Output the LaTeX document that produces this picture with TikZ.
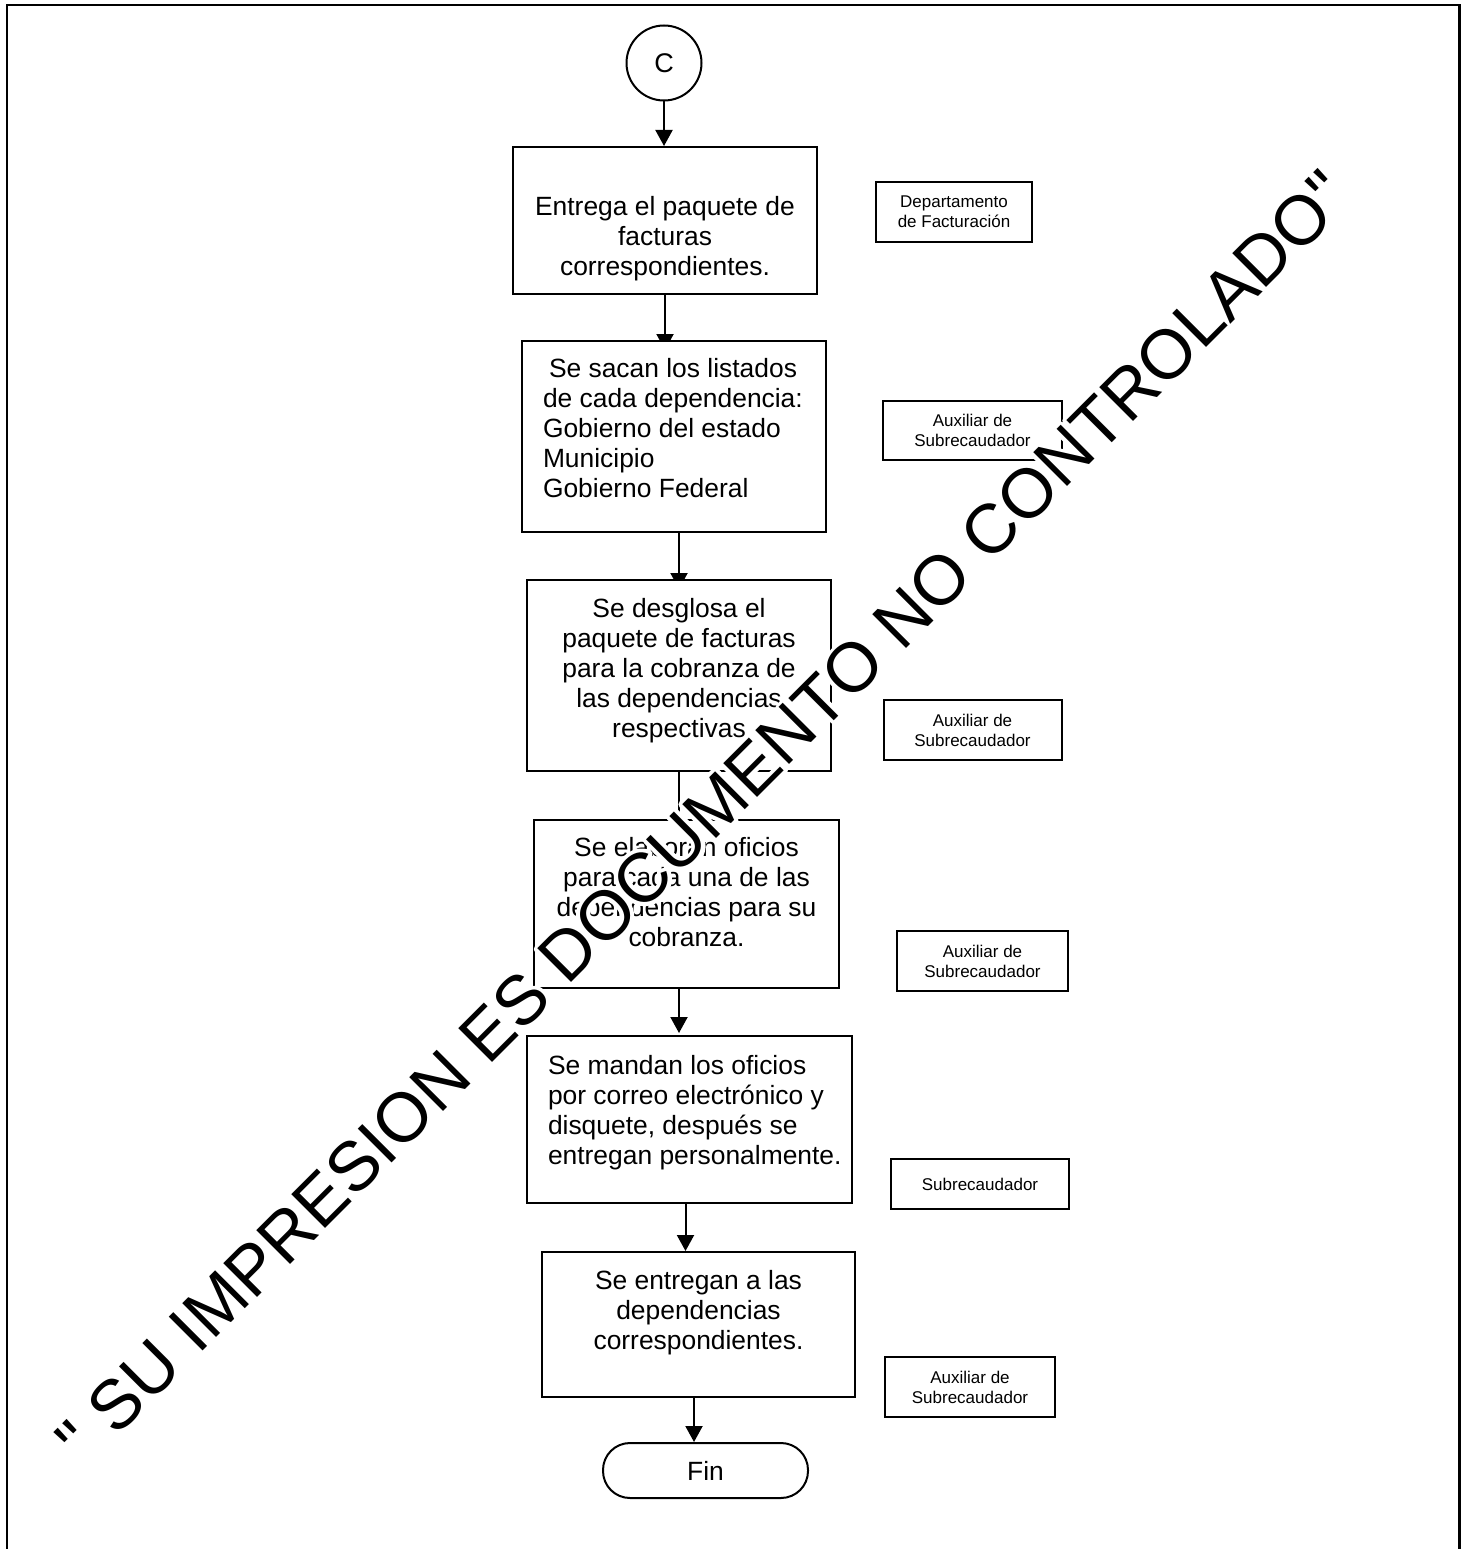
\documentclass[tikz,border=0pt]{standalone}
\usepackage{fontspec}
\setmainfont{Liberation Sans}
\usetikzlibrary{arrows.meta,backgrounds,calc}
\font\wmfnt="Liberation Sans" at 69.5pt
\newcommand\flowtext[4]{\parbox[c][#2][t]{#1}{\vspace*{#3}#4\par}}
\newcommand\wmtext{" SU IMPRESION ES DOCUMENTO NO CONTROLADO"}
\begin{document}
\begin{tikzpicture}[x=1pt,y=-1pt,
  box/.style={draw, fill=white, inner sep=0pt, line width=2pt, font=\fontsize{26.4}{30.2}\selectfont},
  role/.style={draw, fill=white, inner sep=0pt, line width=2pt, align=center, font=\fontsize{17}{20}\selectfont},
  arr/.style={-{Triangle[length=16pt,width=17pt]}, line width=2pt},
  wm/.style={rotate=45, anchor=base, inner sep=0pt, font=\wmfnt}]
\useasboundingbox (0,0) rectangle (1468,1549);
% frame
\draw[line width=2.5pt] (7,1555) -- (7,5) -- (1459.5,5) -- (1459.5,1555);

% connector start
\node[draw, circle, line width=2pt, fill=white, minimum size=75pt, inner sep=0pt, font=\fontsize{27}{30}\selectfont] (c) at (664,63) {C};

% process boxes
\node[box] (b1) at (665,220.5) {\flowtext{304pt}{147pt}{49pt}{\centering Entrega el paquete de\\facturas\\correspondientes.}};
\node[box] (b2) at (674,436.5) {\flowtext{304pt}{191pt}{17pt}{\raggedright\leftskip=21pt\relax\hspace*{6pt}Se sacan los listados\\de cada dependencia:\\Gobierno del estado\\Municipio\\Gobierno Federal}};
\node[box] (b3) at (679,675.5) {\flowtext{304pt}{191pt}{18pt}{\centering Se desglosa el\\paquete de facturas\\para la cobranza de\\las dependencias\\respectivas}};
\node[box] (b4) at (686.5,904) {\flowtext{305pt}{168pt}{17pt}{\centering Se elaboran oficios\\para cada una de las\\dependencias para su\\cobranza.}};
\node[box] (b5) at (689.5,1119.5) {\flowtext{325pt}{167pt}{19pt}{\raggedright\leftskip=21pt\relax Se mandan los oficios\\por correo electrónico y\\disquete, después se\\entregan personalmente.}};
\node[box] (b6) at (698.5,1324.5) {\flowtext{313pt}{145pt}{18pt}{\centering Se entregan a las\\dependencias\\correspondientes.}};
\node[draw, fill=white, line width=2pt, rounded corners=27pt, minimum width=205pt, minimum height=55pt, inner sep=0pt, font=\fontsize{26.4}{30}\selectfont] (fin) at (705.5,1470.5) {Fin};

% role boxes
\node[role, minimum width=156pt, minimum height=60pt] (r1) at (954,212) {Departamento\\de Facturación};
\node[role, minimum width=179pt, minimum height=59pt] (r2) at (972.5,430.5) {Auxiliar de\\Subrecaudador};
\node[role, minimum width=178pt, minimum height=60pt] (r3) at (972.5,730) {Auxiliar de\\Subrecaudador};
\node[role, minimum width=171pt, minimum height=60pt] (r4) at (982.5,961) {Auxiliar de\\Subrecaudador};
\node[role, minimum width=178pt, minimum height=50pt] (r5) at (980,1184) {Subrecaudador};
\node[role, minimum width=170pt, minimum height=60pt] (r6) at (970,1387) {Auxiliar de\\Subrecaudador};

% connectors
\begin{scope}[on background layer]
\draw[arr] (c.south) -- (c.south |- b1.north);
\draw[arr] (b1.south) -- ([yshift=-10pt]b1.south |- b2.north);
\draw[arr] (b2.south -| b3.north) -- ([yshift=-10pt]b3.north);
\draw[arr] (b3.south) -- ([yshift=-22pt]b3.south |- b4.north);
\draw[arr] (b4.south -| b3.south) -- ([yshift=2pt]b3.south |- b5.north);
\draw[arr] ([xshift=-4pt]b5.south) -- ([xshift=-4pt]b5.south |- b6.north);
\draw[arr] ([xshift=-4.5pt]b6.south) -- ([xshift=-4.5pt]b6.south |- fin.north);
\end{scope}

% watermark: white stroked halo, then black text
\node[wm, text=white] (wmh) at (720,834.5) {\special{pdf:literal direct 1 Tr 8 w 1 j}\wmtext\special{pdf:literal direct 0 Tr 1 w}};
\node[wm, text=black] (wm) at (720,834.5) {\wmtext};
\end{tikzpicture}
\end{document}
